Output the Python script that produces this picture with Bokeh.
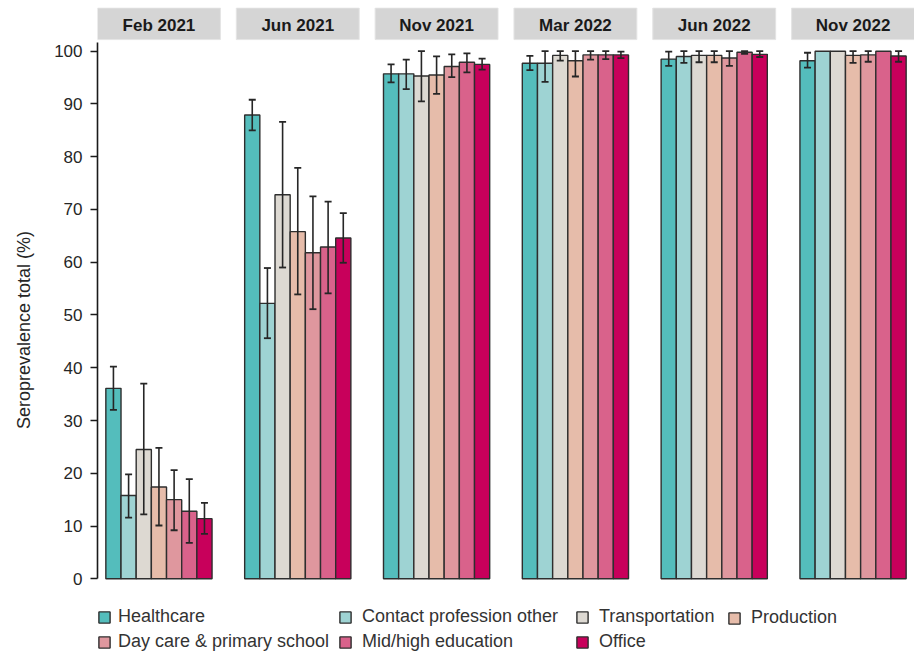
from bokeh.plotting import figure
from bokeh.models import (FactorRange, Range1d, ColumnDataSource, Whisker, TeeHead,
                          FixedTicker, Legend, LegendItem)
from bokeh.core.properties import value
from bokeh.embed import file_html
from bokeh.resources import INLINE

# ---------------- data ----------------
dates = ["Feb 2021", "Jun 2021", "Nov 2021", "Mar 2022", "Jun 2022", "Nov 2022"]
categories = ["Healthcare", "Contact profession other", "Transportation", "Production",
              "Day care & primary school", "Mid/high education", "Office"]
colors = ["#54BDBC", "#9ED3D3", "#DDD9D2", "#E6BCAA", "#DF979E", "#D9628B", "#C8005B"]

healthcare = [36.1, 87.9, 95.7, 97.7, 98.5, 98.2]
healthcare_lo = [32.0, 85.0, 94.1, 96.4, 97.2, 96.9]
healthcare_hi = [40.2, 90.8, 97.5, 99.1, 99.9, 99.7]

contact = [15.8, 52.2, 95.7, 97.7, 99.0, 100.0]
contact_lo = [11.6, 45.6, 92.8, 94.2, 97.8, None]
contact_hi = [19.8, 58.9, 98.4, 100.0, 100.0, None]

transportation = [24.5, 72.8, 95.3, 99.2, 99.2, 100.0]
transportation_lo = [12.2, 59.0, 90.5, 98.2, 97.9, None]
transportation_hi = [37.0, 86.6, 100.0, 100.0, 100.0, None]

production = [17.4, 65.8, 95.5, 98.2, 99.2, 99.2]
production_lo = [10.1, 53.9, 91.9, 95.2, 97.9, 97.8]
production_hi = [24.8, 77.9, 99.0, 100.0, 100.0, 100.0]

daycare = [15.0, 61.8, 97.1, 99.3, 98.7, 99.3]
daycare_lo = [9.2, 51.1, 95.1, 98.4, 97.2, 98.0]
daycare_hi = [20.6, 72.5, 99.4, 100.0, 100.0, 100.0]

midhigh = [12.8, 62.9, 97.9, 99.3, 99.8, 100.0]
midhigh_lo = [6.8, 54.1, 96.0, 98.5, 99.5, None]
midhigh_hi = [18.9, 71.5, 99.6, 100.0, 100.0, None]

office = [11.4, 64.6, 97.5, 99.3, 99.4, 99.1]
office_lo = [8.5, 59.9, 96.5, 98.7, 98.9, 98.0]
office_hi = [14.4, 69.3, 98.6, 99.9, 100.0, 100.0]

y_ticks = [0, 10, 20, 30, 40, 50, 60, 70, 80, 90, 100]

series = [healthcare, contact, transportation, production, daycare, midhigh, office]
series_lo = [healthcare_lo, contact_lo, transportation_lo, production_lo, daycare_lo,
             midhigh_lo, office_lo]
series_hi = [healthcare_hi, contact_hi, transportation_hi, production_hi, daycare_hi,
             midhigh_hi, office_hi]

# ---------------- styling constants ----------------
FONT = "Liberation Sans"
TEXT_COLOR = "#262626"
OUTLINE = "#2e2e2e"
ERR = "#262626"
PANEL_W = 8.1          # panel width in factor units
STRIP_LO, STRIP_HI = 102.2, 108.2

factors = [(d, c) for d in dates for c in categories]
x_range = FactorRange(*factors, factor_padding=0.0, group_padding=2.15,
                      range_padding=0.55, range_padding_units="absolute")

p = figure(width=914, height=652, x_range=x_range, y_range=Range1d(-13.97, 108.28),
           output_backend="svg", toolbar_location=None, title=None,
           x_axis_location=None, min_border_left=97, min_border_right=0,
           min_border_top=7, min_border_bottom=0)
p.outline_line_color = None
p.xgrid.visible = False
p.ygrid.visible = False
p.background_fill_color = "white"
p.border_fill_color = "white"

# facet strips
mid_cat = categories[3]
strip_src = ColumnDataSource(dict(x=[(d, mid_cat) for d in dates], label=dates))
p.rect(x="x", y=(STRIP_LO + STRIP_HI) / 2, width=PANEL_W, height=STRIP_HI - STRIP_LO,
       source=strip_src, fill_color="#D5D5D5", line_color="#E4E4E4", line_width=1)
p.text(x="x", y=(STRIP_LO + STRIP_HI) / 2 - 0.25, text="label", source=strip_src,
       text_font=value(FONT), text_font_style="bold", text_font_size="17px",
       text_color="#1a1a1a", text_align="center", text_baseline="middle")

# panel bottom lines
p.rect(x="x", y=0, width=PANEL_W, height=0, source=strip_src, fill_alpha=0,
       line_color="#3a3a3a", line_width=1.5)

# bars
renderers = []
for cat, col, vals, lo, hi in zip(categories, colors, series, series_lo, series_hi):
    src = ColumnDataSource(dict(x=[(d, cat) for d in dates], top=vals))
    r = p.vbar(x="x", top="top", width=1.0, bottom=0, source=src,
               fill_color=col, line_color=OUTLINE, line_width=1.4)
    renderers.append(r)
    wx = [(d, cat) for d, l in zip(dates, lo) if l is not None]
    wlo = [l for l in lo if l is not None]
    whi = [h for h in hi if h is not None]
    wsrc = ColumnDataSource(dict(x=wx, lower=wlo, upper=whi))
    w = Whisker(source=wsrc, base="x", lower="lower", upper="upper", dimension="height",
                line_color=ERR, line_width=1.6, level="overlay",
                upper_head=TeeHead(size=7, line_color=ERR, line_width=1.8),
                lower_head=TeeHead(size=7, line_color=ERR, line_width=1.8))
    p.add_layout(w)

# y axis
ax = p.yaxis[0]
ax.ticker = FixedTicker(ticks=y_ticks)
ax.bounds = (0, 101.7)
ax.axis_label = "Seroprevalence total (%)"
ax.axis_label_text_font = FONT
ax.axis_label_text_font_size = "18px"
ax.axis_label_text_font_style = "normal"
ax.axis_label_text_color = TEXT_COLOR
ax.axis_label_standoff = 17
ax.major_label_text_font = FONT
ax.major_label_text_font_size = "17px"
ax.major_label_text_color = TEXT_COLOR
ax.major_label_standoff = 8
ax.axis_line_color = "#1a1a1a"
ax.axis_line_width = 1.6
ax.major_tick_line_color = "#1a1a1a"
ax.major_tick_line_width = 1.5
ax.major_tick_out = 7
ax.major_tick_in = 0
ax.minor_tick_line_color = None

# legend: four columns placed under the panels (inside the frame's lower band)
columns = [[0, 4], [1, 5], [2, 6], [3]]
col_x = [0, 241, 478, 630]
col_standoff = [7, 10, 10, 10]
for idxs, cx, so in zip(columns, col_x, col_standoff):
    items = [LegendItem(label=categories[i], renderers=[renderers[i]]) for i in idxs]
    vy = 0 if len(idxs) == 2 else 24
    leg = Legend(items=items, location=(cx, vy), orientation="vertical",
                 glyph_width=14, glyph_height=14, label_height=20, label_standoff=so,
                 spacing=4, padding=0, margin=0, border_line_color=None,
                 background_fill_alpha=0, label_text_font=FONT,
                 label_text_font_size="18px", label_text_color="#333333")
    p.add_layout(leg)

open("out.html", "w").write(file_html(p, INLINE))
